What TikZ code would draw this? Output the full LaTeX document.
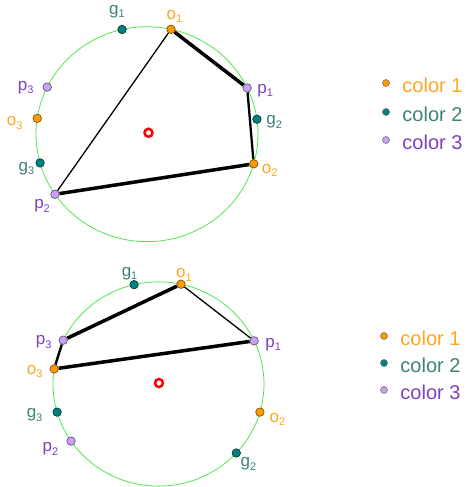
\documentclass[tikz,border=0pt]{standalone}
\usepackage{fontspec}
\setmainfont{Liberation Sans}
\usetikzlibrary{positioning}
\definecolor{ringgreen}{RGB}{80,232,80}
\definecolor{dotorange}{RGB}{255,153,0}
\definecolor{dotteal}{RGB}{0,128,128}
\definecolor{dotpurple}{RGB}{200,160,245}
\definecolor{txtorange}{RGB}{255,165,30}
\definecolor{txtteal}{RGB}{60,130,120}
\definecolor{txtpurple}{RGB}{125,65,190}
\newcommand{\lsub}[1]{\raisebox{-3.5pt}{\fontsize{11}{11}\selectfont #1}}

\begin{document}
\begin{tikzpicture}[x=1pt, y=1pt,
    ring/.style={draw=ringgreen, line width=0.8pt},
    vertex/.style={circle, inner sep=0pt, minimum size=8.5pt, line width=0.6pt},
    vorange/.style={vertex, fill=dotorange, draw=dotorange!45!black},
    vteal/.style={vertex, fill=dotteal, draw=dotteal!40!black},
    vpurple/.style={vertex, fill=dotpurple, draw=dotpurple!45!black},
    lbl/.style={inner sep=1pt, font=\fontsize{17}{19}\selectfont},
    lorange/.style={lbl, text=txtorange},
    lteal/.style={lbl, text=txtteal},
    lpurple/.style={lbl, text=txtpurple},
    origin/.style={circle, draw=red, line width=2.5pt, minimum size=8pt, inner sep=0pt},
    thinside/.style={line width=1.3pt},
    midside/.style={line width=2.3pt},
    thickside/.style={line width=3.5pt},
    legdot/.style={circle, inner sep=0pt, minimum size=7pt, line width=0.5pt, draw=black!60},
    legtext/.style={inner sep=0pt, font=\fontsize{20}{22}\selectfont}
  ]
  \useasboundingbox (0,0) rectangle (471,487);

  % Upper circle
  \begin{scope}[shift={(147,352.8)}, yscale=0.968]
    \coordinate (tmid) at (0,0);
    \draw[ring] (tmid) circle[radius=111];
    \node[origin] (tc) at (1.5,1.5) {};
    \node[vorange] (to1) at (77.5:111) {};
    \node[vteal]   (tg1) at (103:111) {};
    \node[vpurple] (tp1) at (25.5:111) {};
    \node[vteal]   (tg2) at (8:111) {};
    \node[vorange] (to2) at (-16:111) {};
    \node[vpurple] (tp2) at (214:111) {};
    \node[vteal]   (tg3) at (195.5:111) {};
    \node[vorange] (to3) at (171.5:111) {};
    \node[vpurple] (tp3) at (154:111) {};

    \draw[thickside] (to1) -- (tp1);
    \draw[midside] (tp1) -- (to2);
    \draw[thickside] (to2) -- (tp2);
    \draw[thinside] (tp2) -- (to1);

    \node[lteal, above=6pt of tg1, xshift=-5pt] (tg1txt) {g\lsub{1}};
    \node[lorange, above=1pt of to1, xshift=3.5pt] (to1txt) {o\lsub{1}};
    \node[lpurple, right=4.5pt of tp1, yshift=-2.6pt] (tp1txt) {p\lsub{1}};
    \node[lteal, right=3.8pt of tg2, yshift=-2.5pt] (tg2txt) {g\lsub{2}};
    \node[lorange, right=2.5pt of to2, yshift=-6.6pt] (to2txt) {o\lsub{2}};
    \node[lpurple, below left=1pt of tp2] (tp2txt) {p\lsub{2}};
    \node[lteal, left=0pt of tg3, yshift=-5.6pt] (tg3txt) {g\lsub{3}};
    \node[lorange, left=9pt of to3, yshift=-4.6pt] (to3txt) {o\lsub{3}};
    \node[lpurple, left=8pt of tp3, yshift=-0.6pt] (tp3txt) {p\lsub{3}};
  \end{scope}

  % Lower circle
  \begin{scope}[shift={(158.5,103)}, yscale=0.968]
    \coordinate (bmid) at (0,0);
    \draw[ring] (bmid) circle[radius=105.5];
    \node[origin] (bc) at (0.5,1) {};
    \node[vorange] (bo1) at (77.7:105.5) {};
    \node[vteal]   (bg1) at (103.4:105.5) {};
    \node[vpurple] (bp1) at (25:105.5) {};
    \node[vpurple] (bp3) at (154.6:105.5) {};
    \node[vorange] (bo3) at (171.5:105.5) {};
    \node[vteal]   (bg3) at (196:105.5) {};
    \node[vpurple] (bp2) at (214:105.5) {};
    \node[vteal]   (bg2) at (317.5:105.5) {};
    \node[vorange] (bo2) at (344:105.5) {};

    \draw[thickside] (bo1) -- (bp3);
    \draw[midside] (bp3) -- (bo3);
    \draw[thickside] (bo3) -- (bp1);
    \draw[thinside] (bp1) -- (bo1);

    \node[lteal, above=-1pt of bg1, xshift=-4.5pt] (bg1txt) {g\lsub{1}};
    \node[lorange, above=-3pt of bo1, xshift=3pt] (bo1txt) {o\lsub{1}};
    \node[lpurple, right=5.5pt of bp1, yshift=-3.6pt] (bp1txt) {p\lsub{1}};
    \node[lpurple, left=6pt of bp3, yshift=-1.6pt] (bp3txt) {p\lsub{3}};
    \node[lorange, left=6pt of bo3, yshift=-2.6pt] (bo3txt) {o\lsub{3}};
    \node[lteal, left=9pt of bg3, yshift=-2.6pt] (bg3txt) {g\lsub{3}};
    \node[lpurple, left=7pt of bp2, yshift=-7.6pt] (bp2txt) {p\lsub{2}};
    \node[lteal, below right=0pt of bg2] (bg2txt) {g\lsub{2}};
    \node[lorange, right=4pt of bo2, yshift=-7.3pt] (bo2txt) {o\lsub{2}};
  \end{scope}

  % Legends
  \node[legdot, fill=dotorange] (tkey1) at (386,404) {};
  \node[legdot, fill=dotteal] (tkey2) at (386,375) {};
  \node[legdot, fill=dotpurple] (tkey3) at (386,347) {};
  \node[legtext, text=txtorange, right=12.5pt of tkey1, yshift=-2pt] (tkey1txt) {color 1};
  \node[legtext, text=txtteal, right=12.5pt of tkey2, yshift=-2pt] (tkey2txt) {color 2};
  \node[legtext, text=txtpurple, right=12.5pt of tkey3, yshift=-2pt] (tkey3txt) {color 3};

  \node[legdot, fill=dotorange] (bkey1) at (384,151) {};
  \node[legdot, fill=dotteal] (bkey2) at (384,124) {};
  \node[legdot, fill=dotpurple] (bkey3) at (384,97) {};
  \node[legtext, text=txtorange, right=12.5pt of bkey1, yshift=-2pt] (bkey1txt) {color 1};
  \node[legtext, text=txtteal, right=12.5pt of bkey2, yshift=-2pt] (bkey2txt) {color 2};
  \node[legtext, text=txtpurple, right=12.5pt of bkey3, yshift=-2pt] (bkey3txt) {color 3};
\end{tikzpicture}
\end{document}
